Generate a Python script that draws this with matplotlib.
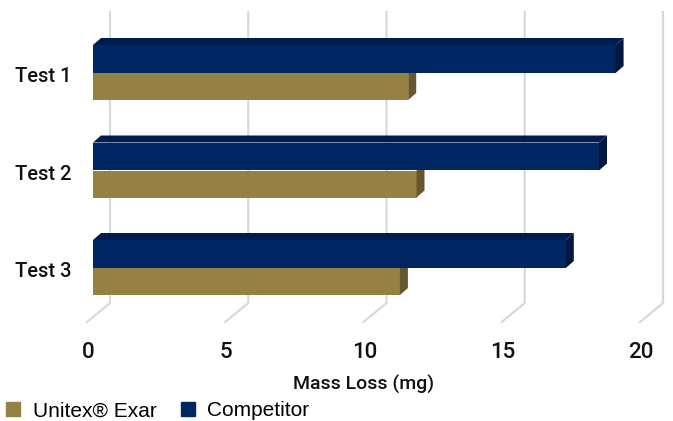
import matplotlib.pyplot as plt
from matplotlib.patches import Patch

plt.rcParams['font.family'] = ['Liberation Sans', 'DejaVu Sans']

categories = ['Test 1', 'Test 2', 'Test 3']
unitex = [11.4, 11.7, 11.1]
competitor = [18.9, 18.3, 17.1]
ticks = [0, 5, 10, 15, 20]
series_names = ['Unitex® Exar', 'Competitor']

gold, gold_side = '#978043', '#66572f'
navy, navy_top, navy_side = '#002663', '#001d4f', '#00183f'
label_font = ['Roboto', 'Liberation Sans', 'DejaVu Sans']

W, H = 673, 421
fig = plt.figure(figsize=(W / 100, H / 100), dpi=100)
ax = fig.add_axes([0, 0, 1, 1])

# pixel -> data mapping for the pseudo 3D layout
px0, pxu = 93, 27.65      # value 0 at x px, px per unit
py0, pyu = 73, 97.5       # category boundary px, px per category
ax.set_xlim((0 - px0) / pxu, (W - px0) / pxu)
ax.set_ylim((H - py0) / pyu, (0 - py0) / pyu)
ax.axis('off')

def py(p):
    return (p - py0) / pyu

dx, dy = 8 / pxu, 7 / pyu          # bar depth offset
wall = 17 / pxu                     # back wall offset
hc, hu = 28 / pyu, 27 / pyu         # bar heights

# back wall + floor gridlines
for k in ticks:
    xb = k + wall
    ax.plot([xb, xb, xb - 23 / pxu], [py(12), py(303), py(322)],
            color='#d9d9d9', lw=1.6, zorder=1, solid_joinstyle='miter')
    ax.text(k - 5 / pxu, py(353), str(k), ha='center', va='center', fontsize=16,
            color='#111111', family=label_font, fontweight='medium')

for i, (u, c) in enumerate(zip(unitex, competitor)):
    # Unitex bar (lower)
    ax.barh(i + hu / 2, u, height=hu, left=0, color=gold, zorder=2, linewidth=0)
    ax.fill([u, u + dx, u + dx, u], [i, i - dy, i + hu - dy, i + hu], color=gold_side, zorder=2, lw=0)
    # Competitor bar (upper)
    t = i - hc
    ax.barh(i - hc / 2, c, height=hc, left=0, color=navy, zorder=3, linewidth=0)
    ax.fill([0, dx, c + dx, c], [t, t - dy, t - dy, t], color=navy_top, zorder=3, lw=0)
    ax.fill([c, c + dx, c + dx, c], [t, t - dy, i - dy, i], color=navy_side, zorder=3, lw=0)
    ax.text((43 - px0) / pxu, i + 4 / pyu, categories[i], ha='center', va='center',
            fontsize=14.5, color='#111111', family=label_font, fontweight='medium')

ax.text((364 - px0) / pxu, py(384), 'Mass Loss (mg)', ha='center', va='center',
        fontsize=14, color='#111111', family=label_font, fontweight='medium')

handles = [Patch(color=gold), Patch(color=navy)]
fig.legend(handles, series_names, loc='lower left', bbox_to_anchor=(-6 / W, -12 / H),
           ncol=2, frameon=False, fontsize=15, handlelength=0.65, handleheight=0.65,
           handletextpad=0.6, columnspacing=1.2, borderpad=0.1)

fig.savefig('out.png', dpi=100)
